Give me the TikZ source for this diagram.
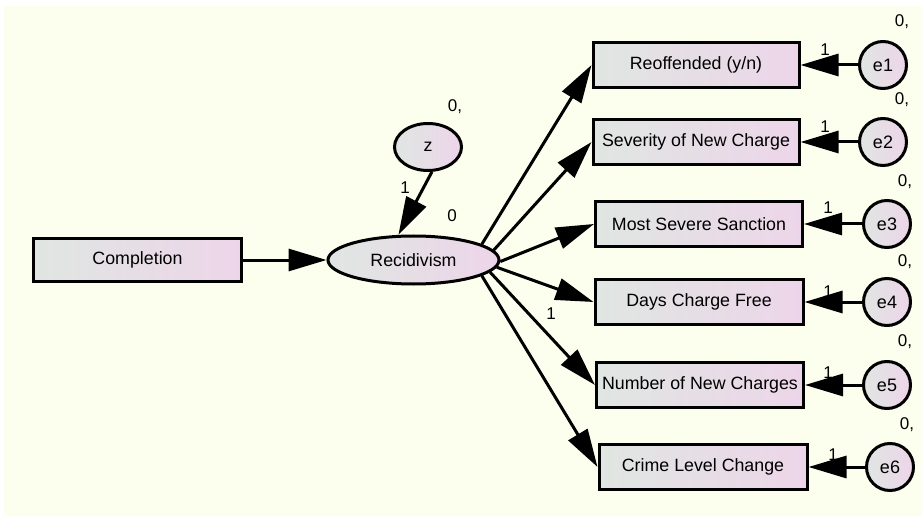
\documentclass[tikz,border=0pt]{standalone}
\usepackage{fontspec}
\setmainfont{Liberation Sans}
\usetikzlibrary{arrows.meta,shapes.geometric}
\definecolor{bgc}{RGB}{252,255,238}
\definecolor{fillL}{RGB}{224,230,226}
\definecolor{fillR}{RGB}{237,213,233}
\begin{document}
\begin{tikzpicture}[x=1pt,y=-1pt,
  obs/.style={draw=black, line width=3pt, left color=fillL, right color=fillR,
    minimum width=206pt, minimum height=45pt, inner sep=0pt,
    font=\fontsize{17.8}{20}\selectfont},
  lat/.style={ellipse, draw=black, line width=3pt, left color=fillL, right color=fillR,
    inner sep=0pt, font=\fontsize{17.8}{20}\selectfont},
  err/.style={circle, draw=black, line width=3pt, left color=fillL, right color=fillR,
    minimum size=47pt, inner sep=0pt, font=\fontsize{18}{20}\selectfont},
  conn/.style={line width=3pt, -{Triangle[length=38pt,width=22pt]}},
  lbl/.style={font=\fontsize{17}{19}\selectfont, inner sep=0pt}]
\useasboundingbox (0,0) rectangle (922,516);
\fill[white] (0,0) rectangle (922,516);
\fill[bgc] (4,6) rectangle (922,516);

% nodes
\node[obs, minimum width=208pt, minimum height=43pt] (comp) at (137.5,260) {Completion};
\node[lat, minimum width=171pt, minimum height=48pt] (rec) at (413.5,260) {Recidivism};
\node[lat, minimum width=67pt, minimum height=47pt] (z) at (428,147) {z};

\node[obs] (r1) at (696,65) {Reoffended (y/n)};
\node[obs] (r2) at (696,142) {Severity of New Charge};
\node[obs, minimum width=207pt] (r3) at (699,224) {Most Severe Sanction};
\node[obs, minimum width=208pt] (r4) at (699,302) {Days Charge Free};
\node[obs, minimum width=207pt] (r5) at (700,385) {Number of New Charges};
\node[obs, minimum width=208pt] (r6) at (703,467) {Crime Level Change};

\node[err] (e1) at (883,65) {e1};
\node[err] (e2) at (883,142) {e2};
\node[err] (e3) at (887,224) {e3};
\node[err] (e4) at (887,302) {e4};
\node[err] (e5) at (887,385) {e5};
\node[err] (e6) at (890,467) {e6};

% connectors
\draw[conn] (comp) -- (rec);
\draw[conn] (z.-81) -- (rec.121);
\draw[conn] (rec.13) -- (r1.west);
\draw[conn] (rec.7) -- (r2.west);
\draw[conn] (rec.-1) -- (r3.west);
\draw[conn] (rec.-5) -- (r4.west);
\draw[conn] (rec.-9) -- (r5.west);
\draw[conn] (rec.-13) -- (r6.west);
\draw[conn] (e1) -- (r1);
\draw[conn] (e2) -- (r2);
\draw[conn] (e3) -- (r3);
\draw[conn] (e4) -- (r4);
\draw[conn] (e5) -- (r5);
\draw[conn] (e6) -- (r6);

% labels
\node[lbl] (lz0) at (455,107) {0,};
\node[lbl] (lz1) at (405,188) {1};
\node[lbl] (lr0) at (452,216) {0};
\node[lbl] (lr1) at (551,314) {1};
\node[lbl] (le10) at (902,22) {0,};
\node[lbl] (le20) at (902,100) {0,};
\node[lbl] (le30) at (905,182) {0,};
\node[lbl] (le40) at (905,262) {0,};
\node[lbl] (le50) at (905,342) {0,};
\node[lbl] (le60) at (907,425) {0,};
\node[lbl] (le11) at (825,50) {1};
\node[lbl] (le21) at (825,127) {1};
\node[lbl] (le31) at (828,208) {1};
\node[lbl] (le41) at (828,292) {1};
\node[lbl] (le51) at (828,373) {1};
\node[lbl] (le61) at (833,455) {1};
\end{tikzpicture}
\end{document}
